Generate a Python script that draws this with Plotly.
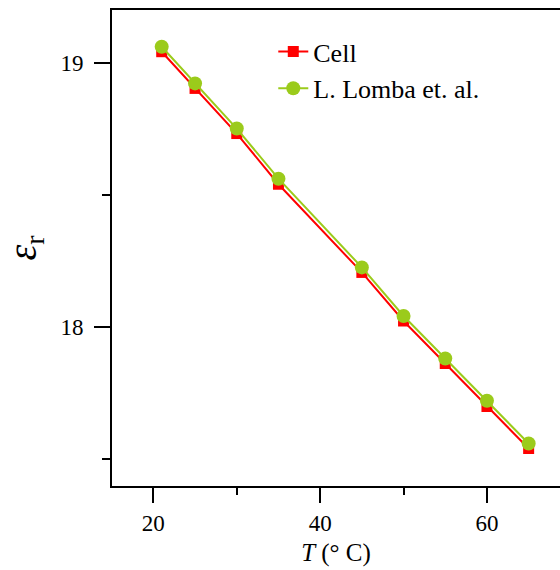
import plotly.graph_objects as go

# Temperature (°C) and relative permittivity for both data sets
temperature = [21, 25, 30, 35, 45, 50, 55, 60, 65]
eps_cell = [19.042, 18.903, 18.732, 18.540, 18.206, 18.022, 17.861, 17.698, 17.539]
eps_lomba = [19.061, 18.922, 18.751, 18.561, 18.225, 18.041, 17.880, 17.720, 17.558]

series_names = ["Cell", "L. Lomba et. al."]
x_ticks = [20, 40, 60]
y_ticks = [18, 19]

RED = "#FF0000"
GREEN = "#9BCB1B"
FONT = "Liberation Serif"

fig = go.Figure()
fig.add_trace(go.Scatter(
    x=temperature, y=eps_cell, name=series_names[0], mode="lines+markers",
    line=dict(color=RED, width=2),
    marker=dict(symbol="square", size=11, color=RED),
))
fig.add_trace(go.Scatter(
    x=temperature, y=eps_lomba, name=series_names[1], mode="lines+markers",
    line=dict(color=GREEN, width=2),
    marker=dict(symbol="circle", size=14, color=GREEN),
))

fig.update_layout(
    width=560, height=570,
    margin=dict(l=112, r=0, t=10, b=84),
    paper_bgcolor="white", plot_bgcolor="white",
    font=dict(family=FONT, size=23, color="black"),
    showlegend=True,
    legend=dict(
        x=0.36, y=0.962, xanchor="left", yanchor="top",
        bgcolor="rgba(0,0,0,0)", font=dict(size=26, family=FONT),
        tracegroupgap=0, itemwidth=30,
    ),
)

fig.update_xaxes(
    range=[15.04, 68.76],
    tickmode="array", tickvals=x_ticks,
    ticks="outside", ticklen=15, tickwidth=2, tickcolor="black",
    minor=dict(dtick=10, tick0=0, ticks="outside", ticklen=7, tickwidth=2, tickcolor="black"),
    showline=True, linewidth=2, linecolor="black", mirror=True,
    showgrid=False, zeroline=False,
    tickfont=dict(size=23, family=FONT),
    title=dict(text="<i>T</i> (° C)", font=dict(size=25, family=FONT), standoff=9),
)
fig.update_yaxes(
    range=[17.397, 19.2],
    tickmode="array", tickvals=y_ticks,
    ticks="outside", ticklen=16, tickwidth=2, tickcolor="black",
    minor=dict(dtick=0.5, tick0=0, ticks="outside", ticklen=8, tickwidth=2, tickcolor="black"),
    showline=True, linewidth=2, linecolor="black", mirror=False,
    showgrid=False, zeroline=False,
    tickfont=dict(size=23, family=FONT), ticklabelstandoff=6,
    title=dict(text="<i>ε</i><sub>r</sub>", font=dict(size=40, family=FONT), standoff=12),
)

fig.write_html("out.html")
